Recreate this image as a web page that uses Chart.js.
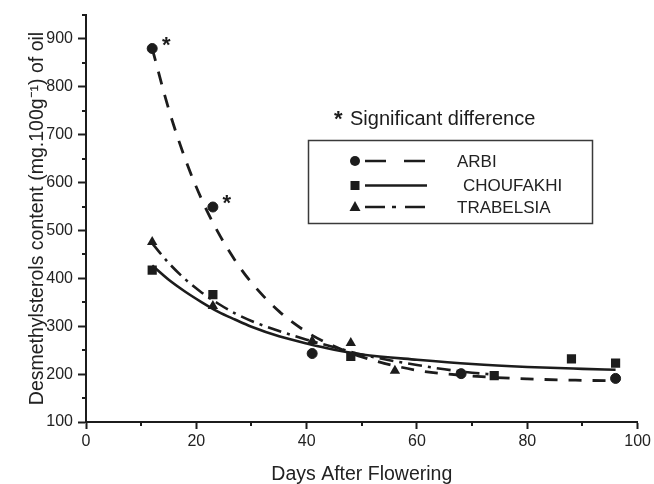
<!DOCTYPE html>
<html>
<head>
<meta charset="utf-8">
<script src="https://cdn.jsdelivr.net/npm/chart.js@4.4.0/dist/chart.umd.min.js"></script>
<style>
  html, body { margin: 0; padding: 0; background: #fff; }
</style>
</head>
<body>
<canvas id="chart" width="654" height="484"></canvas>
<script>
// measured points
const arbiDays = [12, 23, 41, 68, 96];
const arbiValues = [880, 549, 243, 201, 191];
const choufakhiDays = [12, 23, 48, 74, 88, 96];
const choufakhiValues = [417, 366, 237, 197, 232, 223];
const trabelsiaDays = [12, 23, 41, 48, 56];
const trabelsiaValues = [476, 342, 269, 265, 207];

// fitted curves
const fitDays = [12, 15, 18, 21, 24, 27, 30, 35, 40, 45, 50, 60, 70, 80, 90, 96];
const arbiFit = [880, 753, 649, 564, 495, 438, 391, 331, 288, 258, 236, 208, 196, 190, 187, 186];
const choufakhiFit = [427, 397, 372, 350, 330, 314, 299, 279, 264, 251, 241, 230, 221, 215, 211, 209];
const trabelsiaFitDays = [12, 15, 18, 21, 24, 27, 30, 35, 40, 45, 50, 55, 60, 65, 70, 74];
const trabelsiaFit = [473, 432, 398, 370, 347, 327, 311, 290, 272, 256, 241, 229, 219, 210, 203, 199];

const markedArbi = [0, 1]; // points with significant difference

const ink = '#1c1c1c';
const fontFamily = '"Liberation Sans", Arial, sans-serif';

function toXY(xs, ys) {
    return xs.map((x, i) => ({ x: x, y: ys[i] }));
}

const extras = {
    id: 'extras',
    afterDraw(chart) {
        const ctx = chart.ctx;
        const area = chart.chartArea;
        const xs = chart.scales.x;
        const ys = chart.scales.y;
        ctx.save();

        // minor ticks
        ctx.strokeStyle = ink;
        ctx.lineWidth = 2;
        xs.ticks.forEach(t => {
            if (t.value % 20 !== 0) {
                const px = Math.round(xs.getPixelForValue(t.value));
                ctx.beginPath();
                ctx.moveTo(px, area.bottom);
                ctx.lineTo(px, area.bottom + 4);
                ctx.stroke();
            }
        });
        ys.ticks.forEach(t => {
            if (t.value % 100 !== 0) {
                const py = Math.round(ys.getPixelForValue(t.value));
                ctx.beginPath();
                ctx.moveTo(area.left - 4, py);
                ctx.lineTo(area.left, py);
                ctx.stroke();
            }
        });

        // asterisks next to the significant points
        const meta = chart.getDatasetMeta(0);
        ctx.fillStyle = ink;
        ctx.font = 'bold 22px ' + fontFamily;
        ctx.textAlign = 'center';
        ctx.textBaseline = 'alphabetic';
        markedArbi.forEach(i => {
            const el = meta.data[i];
            ctx.fillText('*', el.x + 14, el.y + 3);
        });

        // note
        ctx.textAlign = 'left';
        ctx.fillText('*', 334, 126);
        ctx.font = '20px ' + fontFamily;
        ctx.textBaseline = 'middle';
        ctx.fillText('Significant difference', 350, 119);

        // legend box
        ctx.lineWidth = 1.5;
        ctx.strokeStyle = '#3a3a3a';
        ctx.strokeRect(308.5, 140.5, 284, 83);

        const rows = [
            { y: 161, label: 'ARBI', tx: 457, shape: 'circle', dash: [21, 18] },
            { y: 185.5, label: 'CHOUFAKHI', tx: 463, shape: 'square', dash: [] },
            { y: 207, label: 'TRABELSIA', tx: 457, shape: 'triangle', dash: [20, 7, 4, 9] }
        ];
        ctx.font = '17px ' + fontFamily;
        rows.forEach(r => {
            ctx.strokeStyle = ink;
            ctx.lineWidth = 2.6;
            ctx.setLineDash(r.dash);
            ctx.beginPath();
            ctx.moveTo(365, r.y);
            ctx.lineTo(427, r.y);
            ctx.stroke();
            ctx.setLineDash([]);
            ctx.fillStyle = ink;
            ctx.beginPath();
            if (r.shape === 'circle') {
                ctx.arc(355, r.y, 5, 0, Math.PI * 2);
            } else if (r.shape === 'square') {
                ctx.rect(350.5, r.y - 4.5, 9, 9);
            } else {
                ctx.moveTo(355, r.y - 6);
                ctx.lineTo(360.5, r.y + 4);
                ctx.lineTo(349.5, r.y + 4);
                ctx.closePath();
            }
            ctx.fill();
            ctx.fillStyle = '#222';
            ctx.fillText(r.label, r.tx, r.y + 1);
        });

        ctx.restore();
    }
};

const ctx = document.getElementById('chart').getContext('2d');

new Chart(ctx, {
    type: 'scatter',
    data: {
        datasets: [
            {
                label: 'ARBI',
                data: toXY(arbiDays, arbiValues),
                pointStyle: 'circle',
                pointRadius: 5,
                backgroundColor: ink,
                borderColor: ink,
                showLine: false
            },
            {
                label: 'CHOUFAKHI',
                data: toXY(choufakhiDays, choufakhiValues),
                pointStyle: 'rect',
                pointRadius: 6.5,
                backgroundColor: ink,
                borderColor: ink,
                borderWidth: 0,
                showLine: false
            },
            {
                label: 'TRABELSIA',
                data: toXY(trabelsiaDays, trabelsiaValues),
                pointStyle: 'triangle',
                pointRadius: 6,
                backgroundColor: ink,
                borderColor: ink,
                borderWidth: 0,
                showLine: false
            },
            {
                label: 'ARBI fit',
                data: toXY(fitDays, arbiFit),
                showLine: true,
                pointRadius: 0,
                borderColor: ink,
                borderWidth: 2.8,
                borderDash: [13, 11],
                cubicInterpolationMode: 'monotone'
            },
            {
                label: 'CHOUFAKHI fit',
                data: toXY(fitDays, choufakhiFit),
                showLine: true,
                pointRadius: 0,
                borderColor: ink,
                borderWidth: 2.6,
                cubicInterpolationMode: 'monotone'
            },
            {
                label: 'TRABELSIA fit',
                data: toXY(trabelsiaFitDays, trabelsiaFit),
                showLine: true,
                pointRadius: 0,
                borderColor: ink,
                borderWidth: 2.6,
                borderDash: [14, 6, 3, 6],
                cubicInterpolationMode: 'monotone'
            }
        ]
    },
    options: {
        responsive: false,
        animation: false,
        layout: {
            padding: { top: 15, right: 14, left: 0, bottom: 0 }
        },
        plugins: {
            legend: { display: false },
            tooltip: { enabled: false }
        },
        scales: {
            x: {
                type: 'linear',
                min: 0,
                max: 100,
                afterFit: scale => { scale.height = 62; },
                border: { display: true, color: ink, width: 2 },
                grid: {
                    drawOnChartArea: false,
                    drawTicks: true,
                    tickLength: 7,
                    tickWidth: 2,
                    tickColor: c => (c.tick && c.tick.value % 20 === 0) ? ink : 'rgba(0,0,0,0)'
                },
                ticks: {
                    stepSize: 10,
                    autoSkip: false,
                    maxRotation: 0,
                    padding: 3,
                    color: '#222',
                    font: { family: fontFamily, size: 16 },
                    callback: v => (v % 20 === 0 ? v : '')
                },
                title: {
                    display: true,
                    text: 'Days After Flowering',
                    color: '#222',
                    font: { family: fontFamily, size: 19.5, lineHeight: 1 },
                    padding: 0
                }
            },
            y: {
                type: 'linear',
                min: 100,
                max: 950,
                afterFit: scale => { scale.width = 86; },
                border: { display: true, color: ink, width: 2 },
                grid: {
                    drawOnChartArea: false,
                    drawTicks: true,
                    tickLength: 8,
                    tickWidth: 2,
                    tickColor: c => (c.tick && c.tick.value % 100 === 0) ? ink : 'rgba(0,0,0,0)'
                },
                ticks: {
                    stepSize: 50,
                    autoSkip: false,
                    padding: 5,
                    color: '#222',
                    font: { family: fontFamily, size: 16 },
                    callback: v => (v % 100 === 0 && v <= 900 ? v : '')
                },
                title: {
                    display: true,
                    text: 'Desmethylsterols content (mg.100g\u207B\u00B9) of oil',
                    color: '#222',
                    font: { family: fontFamily, size: 19.5, lineHeight: 1.2 },
                    padding: { top: 26, bottom: 0 }
                }
            }
        }
    },
    plugins: [extras]
});
</script>
</body>
</html>
